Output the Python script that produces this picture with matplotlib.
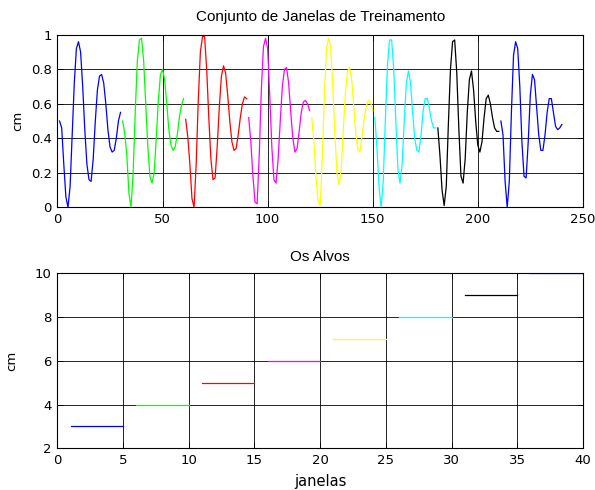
import matplotlib

matplotlib.use("Agg")

import matplotlib.pyplot as plt  # noqa: E402
import numpy as np  # noqa: E402
from matplotlib.ticker import FormatStrFormatter  # noqa: E402

plt.rcParams["font.family"] = ["Liberation Sans", "DejaVu Sans"]
plt.rcParams["font.size"] = 9

# training windows, 30 samples each
janela_1 = [0.50, 0.46, 0.25, 0.06, 0.00, 0.12, 0.42, 0.72, 0.92, 0.96,
            0.90, 0.70, 0.45, 0.25, 0.16, 0.15, 0.28, 0.50, 0.68, 0.76,
            0.77, 0.72, 0.60, 0.45, 0.35, 0.32, 0.33, 0.40, 0.50, 0.55]
janela_2 = [0.50, 0.43, 0.30, 0.08, 0.00, 0.20, 0.55, 0.85, 0.97, 0.98,
            0.85, 0.60, 0.35, 0.18, 0.14, 0.20, 0.40, 0.62, 0.77, 0.80,
            0.74, 0.60, 0.45, 0.36, 0.33, 0.35, 0.42, 0.52, 0.59, 0.63]
janela_3 = [0.51, 0.41, 0.25, 0.05, 0.00, 0.25, 0.62, 0.90, 0.99, 0.99,
            0.80, 0.52, 0.28, 0.16, 0.17, 0.35, 0.58, 0.76, 0.82, 0.78,
            0.65, 0.50, 0.38, 0.33, 0.34, 0.42, 0.52, 0.60, 0.64, 0.63]
janela_4 = [0.52, 0.38, 0.18, 0.03, 0.02, 0.30, 0.68, 0.93, 0.98, 0.92,
            0.65, 0.35, 0.16, 0.14, 0.28, 0.50, 0.70, 0.80, 0.81, 0.72,
            0.55, 0.40, 0.32, 0.34, 0.44, 0.55, 0.61, 0.62, 0.60, 0.56]
janela_5 = [0.52, 0.38, 0.18, 0.03, 0.01, 0.28, 0.65, 0.92, 0.98, 0.93,
            0.70, 0.42, 0.20, 0.13, 0.22, 0.45, 0.66, 0.79, 0.81, 0.74,
            0.58, 0.42, 0.33, 0.33, 0.42, 0.52, 0.59, 0.62, 0.61, 0.56]
janela_6 = [0.52, 0.35, 0.12, 0.00, 0.15, 0.50, 0.82, 0.97, 0.97, 0.80,
            0.50, 0.22, 0.14, 0.25, 0.50, 0.72, 0.79, 0.72, 0.55, 0.40,
            0.33, 0.32, 0.42, 0.56, 0.63, 0.63, 0.57, 0.50, 0.46, 0.46]
janela_7 = [0.46, 0.30, 0.10, 0.01, 0.12, 0.48, 0.80, 0.96, 0.97, 0.78,
            0.45, 0.18, 0.14, 0.28, 0.55, 0.74, 0.79, 0.68, 0.50, 0.36,
            0.32, 0.38, 0.52, 0.63, 0.65, 0.60, 0.52, 0.46, 0.44, 0.44]
janela_8 = [0.50, 0.42, 0.15, 0.00, 0.15, 0.55, 0.88, 0.96, 0.92, 0.70,
            0.38, 0.18, 0.17, 0.38, 0.65, 0.77, 0.74, 0.58, 0.42, 0.33,
            0.33, 0.42, 0.55, 0.63, 0.63, 0.55, 0.47, 0.45, 0.46, 0.48]
janelas = [janela_1, janela_2, janela_3, janela_4,
           janela_5, janela_6, janela_7, janela_8]

# target for each window, drawn over 5 positions
alvos = [3, 4, 5, 6, 7, 8, 9, 10]
passos_por_alvo = 5

cores = ["#0000ff", "#00ff00", "#ff0000", "#ff00ff",
         "#ffff00", "#00ffff", "#000000", "#0000ff"]

# the original's tick labels and axis labels render wide
FONTE_LARGA = "DejaVu Sans"


def _estilo(ax):
    ax.grid(True, color="black", linewidth=0.6, linestyle="-")
    ax.set_axisbelow(True)
    ax.tick_params(direction="in", top=True, right=True, length=4, width=0.6,
                   pad=4, labelsize=9.5)
    for label in ax.get_xticklabels() + ax.get_yticklabels():
        label.set_family(FONTE_LARGA)
    for spine in ax.spines.values():
        spine.set_linewidth(0.8)


fig = plt.figure(figsize=(5.95, 4.9), dpi=100)
ax1 = fig.add_axes([0.0966, 0.577, 0.883, 0.352])
ax2 = fig.add_axes([0.0966, 0.0851, 0.883, 0.357])

inicio = 1
for valores, cor in zip(janelas, cores):
    x = np.arange(inicio, inicio + len(valores))
    ax1.plot(x, valores, color=cor, linewidth=0.9)
    inicio += len(valores)
ax1.set_xlim(0, 250)
ax1.set_ylim(0, 1)
ax1.set_xticks(np.arange(0, 251, 50))
ax1.set_yticks(np.arange(0, 1.01, 0.2))
ax1.yaxis.set_major_formatter(FormatStrFormatter("%g"))
ax1.set_ylabel("cm", labelpad=5, family=FONTE_LARGA, fontsize=9.5)
ax1.set_title("Conjunto de Janelas de Treinamento", pad=10, fontsize=11)
_estilo(ax1)

for i, (alvo, cor) in enumerate(zip(alvos, cores)):
    x = np.arange(i * passos_por_alvo + 1, (i + 1) * passos_por_alvo + 1)
    ax2.plot(x, np.full(len(x), alvo), color=cor, linewidth=0.9)
ax2.set_xlim(0, 40)
ax2.set_ylim(2, 10)
ax2.set_xticks(np.arange(0, 41, 5))
ax2.set_yticks(np.arange(2, 11, 2))
ax2.set_xlabel("janelas", labelpad=5, family=FONTE_LARGA, fontsize=10.5)
ax2.set_ylabel("cm", labelpad=12, family=FONTE_LARGA, fontsize=9.5)
ax2.set_title("Os Alvos", pad=9, fontsize=11)
_estilo(ax2)

fig.savefig("out.png", dpi=100)
plt.close(fig)
